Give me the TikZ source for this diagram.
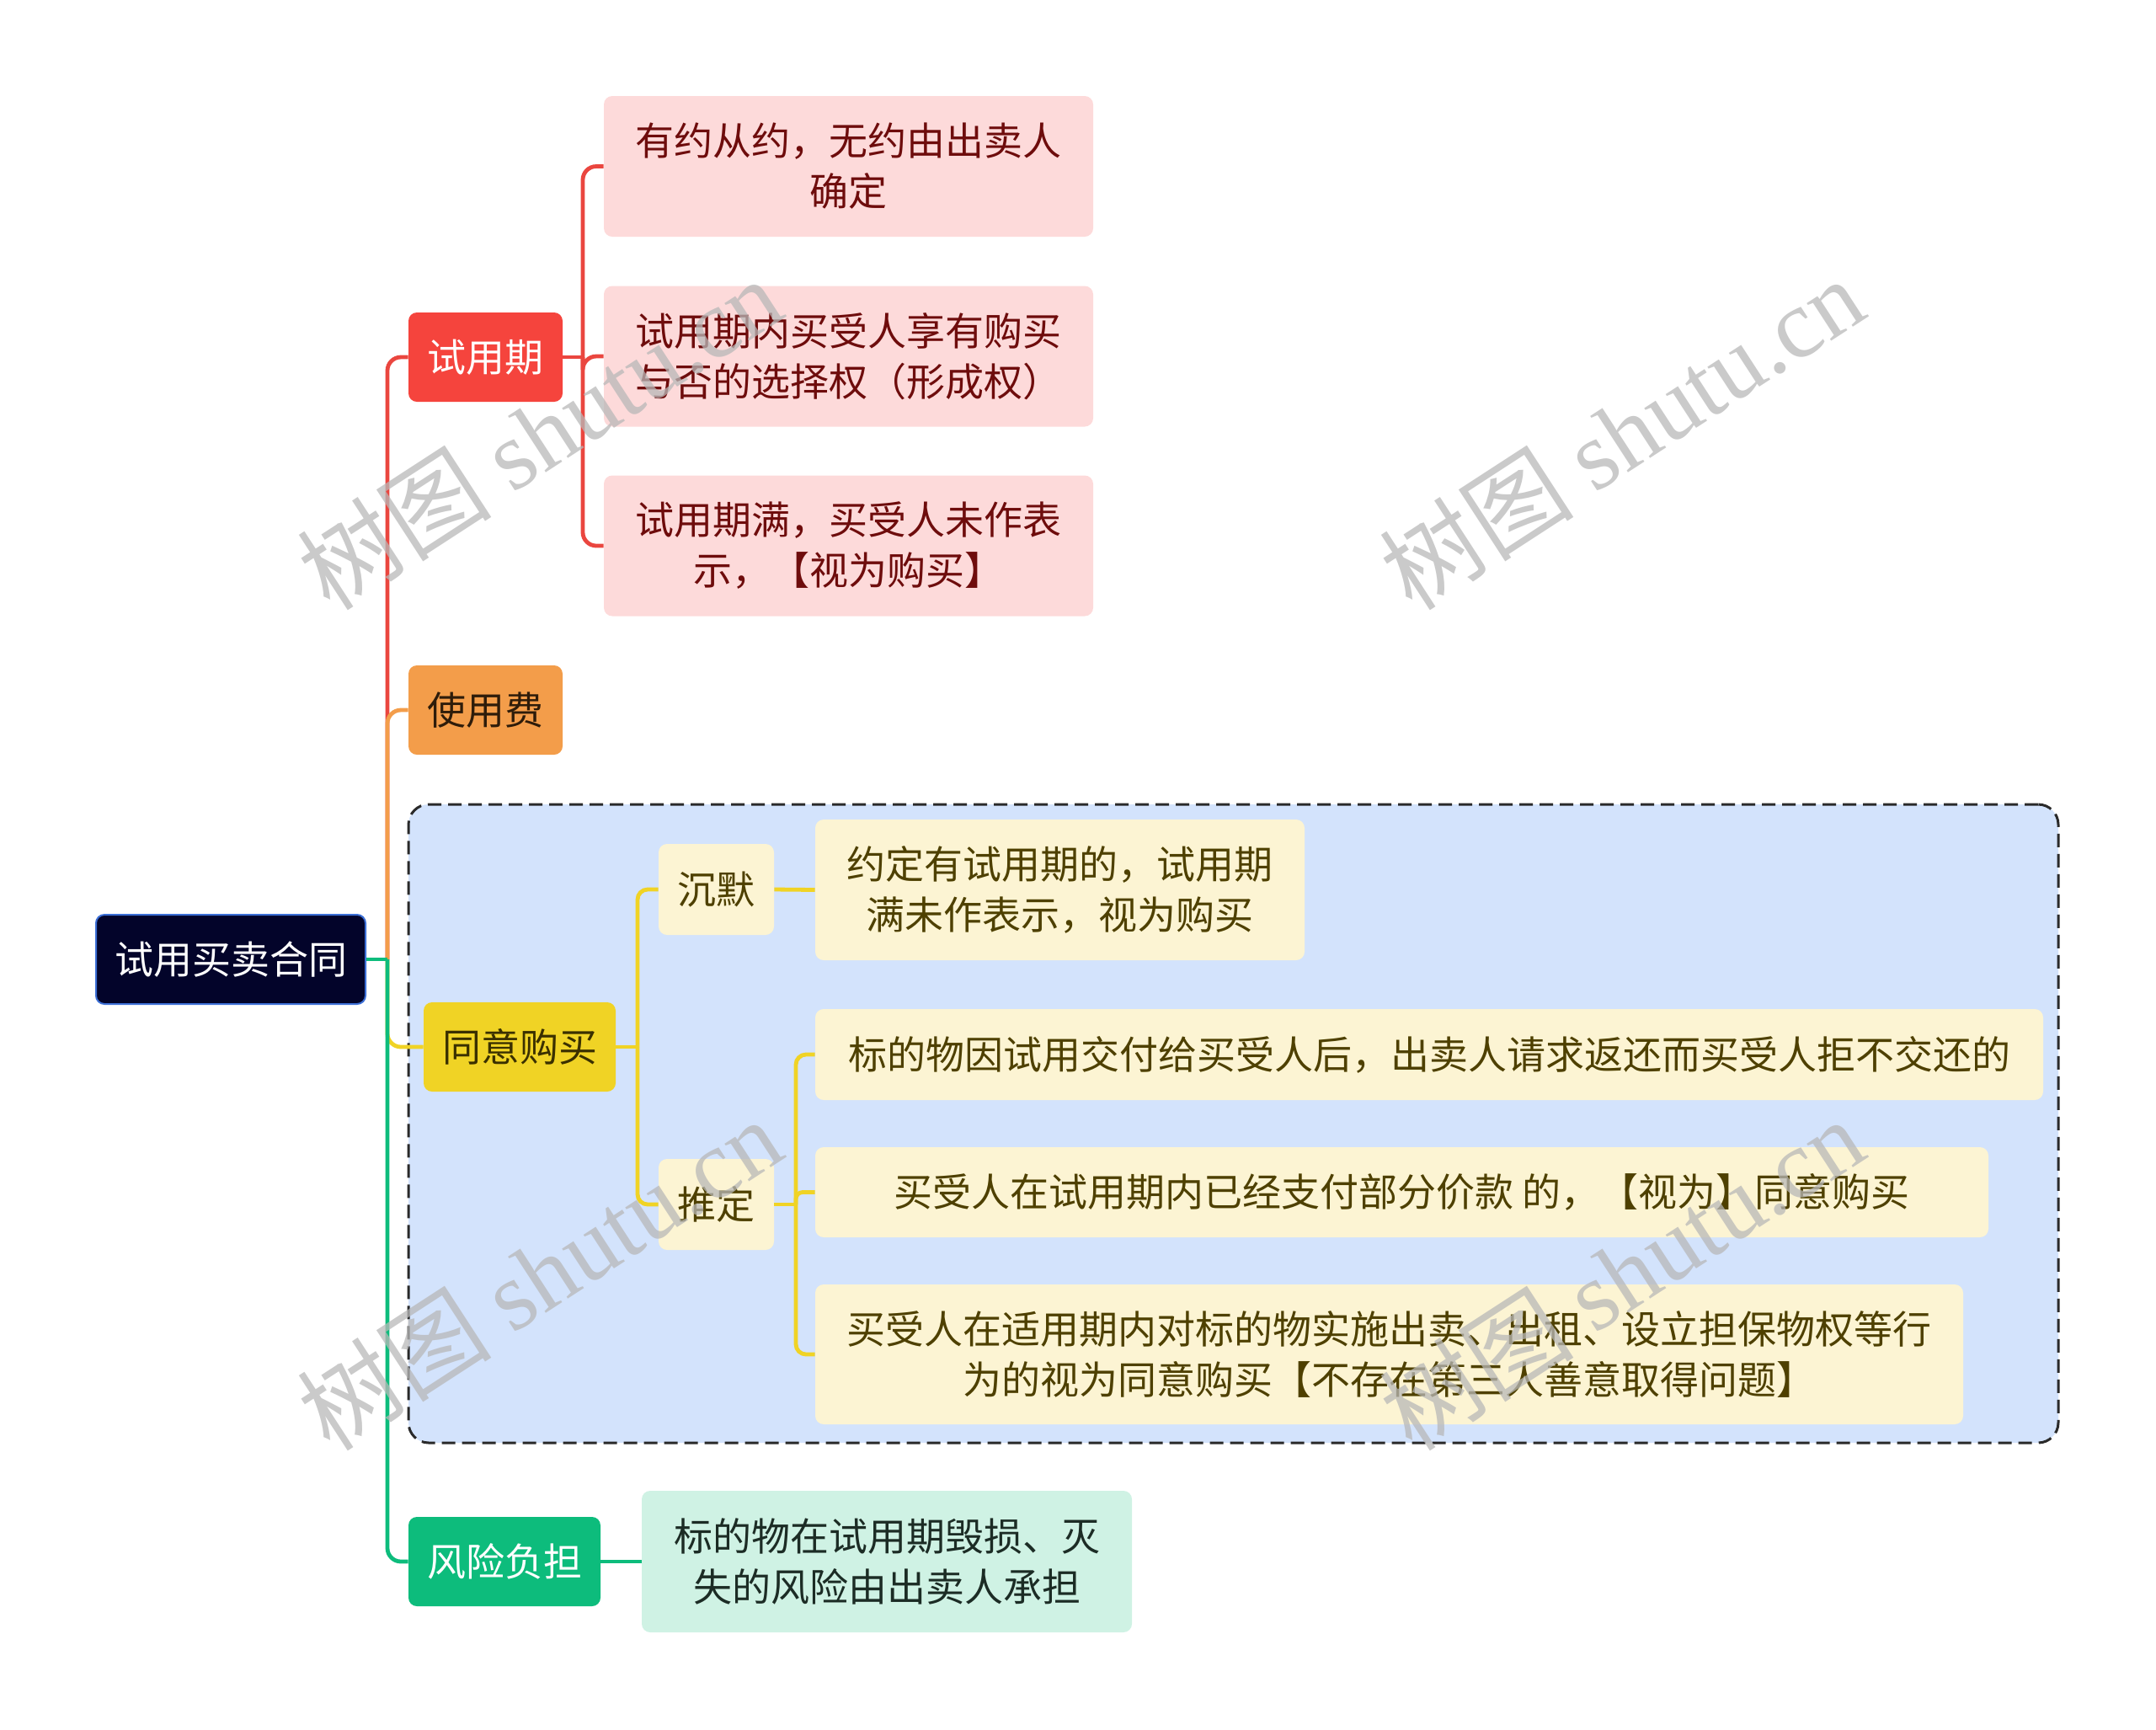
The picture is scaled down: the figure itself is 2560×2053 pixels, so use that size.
\documentclass[tikz,border=0pt]{standalone}
\usepackage{fontspec}
\setmainfont{Noto Sans CJK SC}
\newfontfamily\wmlatin{Liberation Serif}
\definecolor{rootfill}{HTML}{03042A}
\definecolor{rootborder}{HTML}{3C6FD6}
\definecolor{redc}{HTML}{EA463F}
\definecolor{redfill}{HTML}{F5443D}
\definecolor{pinkfill}{HTML}{FDDADA}
\definecolor{redtext}{HTML}{6E0C0C}
\definecolor{orangec}{HTML}{F39D4A}
\definecolor{orangetext}{HTML}{2E1C0A}
\definecolor{yellowc}{HTML}{F0D325}
\definecolor{yellowtext}{HTML}{3A3000}
\definecolor{creamfill}{HTML}{FCF4D3}
\definecolor{olivetext}{HTML}{4E4000}
\definecolor{greenc}{HTML}{0DBC7C}
\definecolor{mintfill}{HTML}{CFF2E4}
\definecolor{minttext}{HTML}{1C2C25}
\definecolor{bluebg}{HTML}{D3E3FC}
\definecolor{dashc}{HTML}{2A2A2A}
\definecolor{wmgray}{HTML}{B8B8B8}
\begin{document}
\begin{tikzpicture}[x=0.5pt,y=-0.5pt,
  box/.style={rounded corners=5pt, align=center, inner sep=0pt,
    font=\fontsize{23}{30}\selectfont},
  rootbox/.style={box, fill=rootfill, draw=rootborder, line width=1pt, text=white,
    minimum width=160pt, minimum height=53pt},
  mainbox/.style={box, minimum height=53pt},
  pinkbox/.style={box, fill=pinkfill, text=redtext, minimum width=290.5pt, minimum height=83.5pt},
  creambox/.style={box, fill=creamfill, text=olivetext},
  mintbox/.style={box, fill=mintfill, text=minttext, minimum width=291pt, minimum height=84pt},
  conn/.style={line width=2.4pt, rounded corners=8pt},
  wm/.style={text=wmgray, opacity=0.75, rotate=33, font=\fontsize{58}{58}\selectfont, inner sep=0pt}
]
\useasboundingbox (0,0) rectangle (2560,2053);

% group background
\node[draw=dashc, fill=bluebg, dashed, dash pattern=on 8pt off 4pt, line width=1.5pt,
  rounded corners=12pt, minimum width=979.5pt, minimum height=379pt, inner sep=0pt]
  (grp) at (1464.5,1334) {};

% nodes
\node[rootbox] (root) at (274,1139) {试用买卖合同};
\node[mainbox, fill=redfill, text=white, minimum width=91.5pt] (sy) at (576.5,424) {试用期};
\node[mainbox, fill=orangec, text=orangetext, minimum width=91.5pt] (syf) at (576.5,843) {使用费};
\node[mainbox, fill=yellowc, text=yellowtext, minimum width=114pt] (ty) at (617,1243) {同意购买};
\node[mainbox, fill=greenc, text=white, minimum width=114pt] (fx) at (599,1854) {风险负担};

\node[pinkbox] (c1) at (1007.5,197.5) {有约从约，无约由出卖人\\确定};
\node[pinkbox] (c2) at (1007.5,423) {试用期内买受人享有购买\\与否的选择权（形成权）};
\node[pinkbox] (c3) at (1007.5,648) {试用期满，买受人未作表\\示，【视为购买】};

\node[creambox, minimum width=68.5pt, minimum height=54pt] (cm) at (850.5,1056) {沉默};
\node[creambox, minimum width=68.5pt, minimum height=54pt] (td) at (850.5,1430) {推定};
\node[creambox, minimum width=290.5pt, minimum height=83.5pt] (cmc) at (1258.5,1056.5) {约定有试用期的，试用期\\满未作表示，视为购买};
\node[creambox, minimum width=729pt, minimum height=54pt] (t1) at (1697,1252) {标的物因试用交付给买受人后，出卖人请求返还而买受人拒不交还的};
\node[creambox, minimum width=696.5pt, minimum height=53.5pt] (t2) at (1664.5,1415.5) {买受人在试用期内已经支付部分价款 的，【视为】同意购买};
\node[creambox, minimum width=681.5pt, minimum height=83pt] (t3) at (1649.5,1608) {买受人在适用期内对标的物实施出卖、出租、设立担保物权等行\\为的视为同意购买【不存在第三人善意取得问题】};

\node[mintbox] (fxc) at (1053,1854) {标的物在试用期毁损、灭\\失的风险由出卖人承担};

% junction coordinates
\coordinate (j) at (460,1139);
\coordinate (jr) at (692,424);
\coordinate (jy) at (757,1243);
\coordinate (jt) at (945,1430);

% main connectors
\draw[conn, draw=redc] (j) |- (sy.west);
\draw[conn, draw=orangec] (j) |- (syf.west);
\draw[conn, draw=yellowc] (j) |- (ty.west);
\draw[conn, draw=greenc] (root.east) -- (j);
\draw[conn, draw=greenc] (j) |- (fx.west);

% red sub-branches
\draw[conn, draw=redc] (sy.east) -- (jr);
\draw[conn, draw=redc] (jr) |- (c1.west);
\draw[conn, draw=redc] (jr) |- (c2.west);
\draw[conn, draw=redc] (jr) |- (c3.west);

% yellow sub-branches
\draw[conn, draw=yellowc, rounded corners=6pt] (ty.east) -- (jy);
\draw[conn, draw=yellowc, rounded corners=6pt] (jy) |- (cm.west);
\draw[conn, draw=yellowc, rounded corners=6pt] (jy) |- (td.west);
\draw[conn, draw=yellowc] (cm.east) -- (cmc.west);
\draw[conn, draw=yellowc, rounded corners=6pt] (td.east) -- (jt);
\draw[conn, draw=yellowc, rounded corners=6pt] (jt) |- (t1.west);
\draw[conn, draw=yellowc, rounded corners=4pt] (jt) |- (t2.west);
\draw[conn, draw=yellowc, rounded corners=6pt] (jt) |- (t3.west);

% green sub-branch
\draw[conn, draw=greenc] (fx.east) -- (fxc.west);

% watermarks
\node[wm] (wm1) at (640,514) {树图 {\wmlatin shutu.cn}};
\node[wm] (wm2) at (1925,514) {树图 {\wmlatin shutu.cn}};
\node[wm] (wm3) at (640,1512) {树图 {\wmlatin shutu.cn}};
\node[wm] (wm4) at (1925,1512) {树图 {\wmlatin shutu.cn}};
\end{tikzpicture}
\end{document}
